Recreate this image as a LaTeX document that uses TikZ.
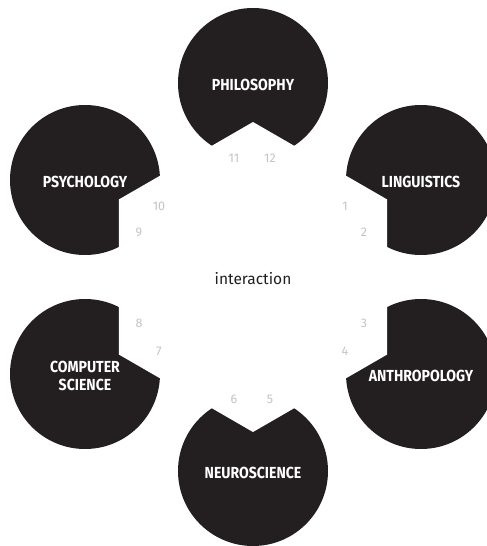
\documentclass[tikz,border=0pt]{standalone}
\usepackage{fontspec}
\usepackage{graphicx}
\setmainfont{Fira Sans}
\definecolor{ink}{HTML}{231F20}
\definecolor{numgrey}{HTML}{C4C4C4}
\newcommand\lab[1]{\raisebox{-2pt}[\height][0pt]{\scalebox{0.88}[1]{#1}}}
\begin{document}
\begin{tikzpicture}[x=1pt,y=-1pt,
  disc/.style={circle, fill=ink, minimum size=150pt, inner sep=0pt, text=white,
    font=\fontsize{16}{17.5}\selectfont\bfseries, align=center},
  num/.style={text=numgrey, font=\fontsize{12.5}{12.5}\selectfont, inner sep=0pt},
  centre/.style={text=ink, font=\fontsize{15.5}{15.5}\selectfont, inner sep=0pt},
  hole/.style={fill=white, draw=none}]
\useasboundingbox (0,0) rectangle (487,546);
% discs
\node[disc] (phil) at (253,83)  {\lab{PHILOSOPHY}};
\node[disc] (ling) at (421,180) {\lab{LINGUISTICS}};
\node[disc] (anth) at (421,374) {\lab{ANTHROPOLOGY}};
\node[disc] (neur) at (253,471) {\lab{NEUROSCIENCE}};
\node[disc] (comp) at (85,374)  {\lab{COMPUTER}\\\lab{SCIENCE}};
\node[disc] (psyc) at (85,180)  {\lab{PSYCHOLOGY}};
% central hexagon cut out of the discs
\fill[hole] (253,122) -- (387.2,199.5) -- (387.2,354.5) -- (253,432)
  -- (118.8,354.5) -- (118.8,199.5) -- cycle;
% centre text
\node[centre] (inter) at (253,279) {interaction};
% numbers
\node[num] (n1)  at (345,206) {1};
\node[num] (n2)  at (364,232) {2};
\node[num] (n3)  at (364,323) {3};
\node[num] (n4)  at (345,351) {4};
\node[num] (n5)  at (270,399) {5};
\node[num] (n6)  at (234,399) {6};
\node[num] (n7)  at (159,351) {7};
\node[num] (n8)  at (139,323) {8};
\node[num] (n9)  at (139,232) {9};
\node[num] (n10) at (159,206) {10};
\node[num] (n11) at (234,158) {11};
\node[num] (n12) at (270,158) {12};
\end{tikzpicture}
\end{document}
